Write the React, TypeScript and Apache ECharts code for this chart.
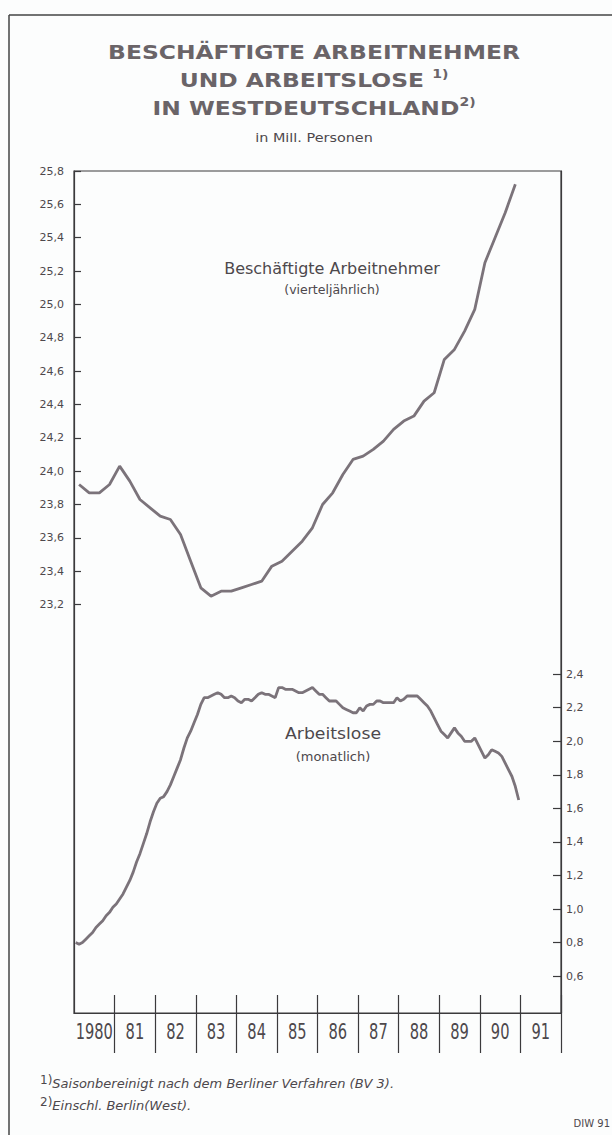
import React, { useEffect, useRef } from "react";
import * as echarts from "echarts";

// x-axis slots (one per year)
const YEAR_LABELS = ["1980", "81", "82", "83", "84", "85", "86", "87", "88", "89", "90", "91"];
const YEAR_START = 1980;

// Beschäftigte Arbeitnehmer, vierteljährlich, 1980 Q1 – 1990 Q4 (Mill.)
const EMPLOYED = [
  23.92, 23.87, 23.87, 23.92, // 1980
  24.03, 23.94, 23.83, 23.78, // 1981
  23.73, 23.71, 23.62, 23.46, // 1982
  23.30, 23.25, 23.28, 23.28, // 1983
  23.30, 23.32, 23.34, 23.43, // 1984
  23.46, 23.52, 23.58, 23.66, // 1985
  23.80, 23.87, 23.98, 24.07, // 1986
  24.09, 24.13, 24.18, 24.25, // 1987
  24.30, 24.33, 24.42, 24.47, // 1988
  24.67, 24.73, 24.84, 24.97, // 1989
  25.25, 25.40, 25.55, 25.72, // 1990
];

// Arbeitslose, monatlich, Jan 1980 – Dez 1990 (Mill.)
const UNEMPLOYED = [
  0.80, 0.79, 0.80, 0.82, 0.84, 0.86, 0.89, 0.91, 0.93, 0.96, 0.98, 1.01, // 1980
  1.03, 1.06, 1.09, 1.13, 1.17, 1.22, 1.28, 1.33, 1.39, 1.45, 1.52, 1.58, // 1981
  1.63, 1.66, 1.67, 1.70, 1.74, 1.79, 1.84, 1.89, 1.96, 2.02, 2.06, 2.11, // 1982
  2.16, 2.22, 2.26, 2.26, 2.27, 2.28, 2.29, 2.28, 2.26, 2.26, 2.27, 2.26, // 1983
  2.24, 2.23, 2.25, 2.25, 2.24, 2.26, 2.28, 2.29, 2.28, 2.28, 2.27, 2.26, // 1984
  2.32, 2.32, 2.31, 2.31, 2.31, 2.30, 2.29, 2.29, 2.30, 2.31, 2.32, 2.30, // 1985
  2.28, 2.28, 2.26, 2.24, 2.24, 2.24, 2.22, 2.20, 2.19, 2.18, 2.17, 2.17, // 1986
  2.20, 2.18, 2.21, 2.22, 2.22, 2.24, 2.24, 2.23, 2.23, 2.23, 2.23, 2.26, // 1987
  2.24, 2.25, 2.27, 2.27, 2.27, 2.27, 2.25, 2.23, 2.21, 2.18, 2.14, 2.10, // 1988
  2.06, 2.04, 2.02, 2.05, 2.08, 2.05, 2.03, 2.00, 2.00, 2.00, 2.02, 1.98, // 1989
  1.94, 1.90, 1.92, 1.95, 1.94, 1.93, 1.91, 1.87, 1.83, 1.79, 1.73, 1.65, // 1990
];

const LEFT_TICKS = [23.2, 23.4, 23.6, 23.8, 24.0, 24.2, 24.4, 24.6, 24.8, 25.0, 25.2, 25.4, 25.6, 25.8];
const RIGHT_TICKS = [0.6, 0.8, 1.0, 1.2, 1.4, 1.6, 1.8, 2.0, 2.2, 2.4];

const LINE_COLOR = "#7b737a";
const AXIS_COLOR = "#3b3a3c";
const TEXT_COLOR = "#4d484c";
const TITLE_COLOR = "#6a6468";
const SANS = "'DejaVu Sans', sans-serif";
const CONDENSED = "'DejaVu Sans Condensed', 'DejaVu Sans', sans-serif";

const fmt = (v: number) => v.toFixed(1).replace(".", ",");

export default function App() {
  const ref = useRef<HTMLDivElement>(null);

  useEffect(() => {
    const chart = echarts.init(ref.current!, null, { renderer: "svg" });

    const dividers = YEAR_LABELS.map((_, i) => YEAR_START + i + 1);
    const labelPos = YEAR_LABELS.map((_, i) => YEAR_START + i + 0.5);
    const xMin = YEAR_START;
    const xMax = YEAR_START + YEAR_LABELS.length;

    const titleText = (text: string, y: number) => ({
      type: "text",
      x: 314,
      y,
      scaleX: 1.17,
      style: {
        text,
        fill: TITLE_COLOR,
        align: "center",
        verticalAlign: "middle",
        textAlign: "center",
        textVerticalAlign: "middle",
        rich: {
          m: { fontSize: 20, fontWeight: "bold", fontFamily: SANS, fill: TITLE_COLOR, lineHeight: 24 },
          s: { fontSize: 12, fontWeight: "bold", fontFamily: SANS, fill: TITLE_COLOR, lineHeight: 12, verticalAlign: "top" },
        },
      },
    });

    const plain = (text: string, x: number, y: number, size: number, align = "center", extra: any = {}) => ({
      type: "text",
      x,
      y,
      style: {
        text,
        fill: TEXT_COLOR,
        fontSize: size,
        fontFamily: SANS,
        align,
        verticalAlign: "middle",
        textAlign: align,
        textVerticalAlign: "middle",
        ...extra,
      },
    });

    const footnote = (id: string, sup: string, body: string, y: number) => ({
      id,
      type: "text",
      x: 40,
      y,
      style: {
        text: `{s|${sup}}{t|${body}}`,
        verticalAlign: "middle",
        textVerticalAlign: "middle",
        rich: {
          s: { fontSize: 12, fontFamily: SANS, fill: TEXT_COLOR, lineHeight: 13, verticalAlign: "top" },
          t: { fontSize: 13, fontStyle: "italic", fontFamily: SANS, fill: TEXT_COLOR, lineHeight: 18 },
        },
      },
    });

    const option: any = {
      animation: false,
      backgroundColor: "#fcfdfd",
      grid: {
        left: 74,
        top: 171,
        width: 487,
        height: 842,
        show: true,
        borderColor: AXIS_COLOR,
        borderWidth: 1.2,
        backgroundColor: "transparent",
      },
      xAxis: [
        {
          type: "value",
          min: xMin,
          max: xMax,
          position: "bottom",
          axisLine: { show: true, lineStyle: { color: AXIS_COLOR, width: 1.2 } },
          axisTick: {
            show: true,
            inside: false,
            length: 40,
            customValues: dividers,
            lineStyle: { color: AXIS_COLOR, width: 1.2 },
          },
          axisLabel: { show: false },
          splitLine: { show: false },
        },
        {
          type: "value",
          min: xMin,
          max: xMax,
          position: "bottom",
          axisLine: { show: false },
          axisTick: {
            show: true,
            inside: true,
            length: 18,
            customValues: dividers,
            lineStyle: { color: AXIS_COLOR, width: 1.2 },
          },
          axisLabel: { show: false },
          splitLine: { show: false },
        },
      ],
      yAxis: [
        {
          type: "value",
          position: "left",
          min: 20.75,
          max: 25.8,
          axisLine: { show: true, lineStyle: { color: AXIS_COLOR, width: 1.2 } },
          axisTick: {
            show: true,
            inside: true,
            length: 7,
            customValues: LEFT_TICKS,
            lineStyle: { color: AXIS_COLOR, width: 1.2 },
          },
          axisLabel: {
            show: true,
            customValues: LEFT_TICKS,
            formatter: (v: number) => fmt(v),
            margin: 10,
            fontSize: 11,
            fontFamily: SANS,
            color: TEXT_COLOR,
          },
          splitLine: { show: false },
        },
        {
          type: "value",
          position: "right",
          min: 0.38,
          max: 5.4,
          axisLine: { show: true, lineStyle: { color: AXIS_COLOR, width: 1.2 } },
          axisTick: {
            show: true,
            inside: true,
            length: 8,
            customValues: RIGHT_TICKS,
            lineStyle: { color: AXIS_COLOR, width: 1.2 },
          },
          axisLabel: {
            show: true,
            customValues: RIGHT_TICKS,
            formatter: (v: number) => fmt(v),
            margin: 5,
            fontSize: 11,
            fontFamily: SANS,
            color: TEXT_COLOR,
          },
          splitLine: { show: false },
        },
      ],
      series: [
        {
          name: "Beschäftigte Arbeitnehmer",
          type: "line",
          xAxisIndex: 0,
          yAxisIndex: 0,
          showSymbol: false,
          silent: true,
          lineStyle: { color: LINE_COLOR, width: 2.8 },
          data: EMPLOYED.map((v, i) => [YEAR_START + (i + 0.5) / 4, v]),
        },
        {
          name: "Arbeitslose",
          type: "line",
          xAxisIndex: 0,
          yAxisIndex: 1,
          showSymbol: false,
          silent: true,
          lineStyle: { color: LINE_COLOR, width: 2.8 },
          data: UNEMPLOYED.map((v, i) => [YEAR_START + (i + 0.5) / 12, v]),
        },
      ],
      graphic: [
        { type: "line", shape: { x1: 9, y1: 15, x2: 612, y2: 15 }, style: { stroke: "#444", lineWidth: 1.5 } },
        { type: "line", shape: { x1: 9, y1: 15, x2: 9, y2: 1135 }, style: { stroke: "#444", lineWidth: 1.5 } },
        titleText("{m|BESCHÄFTIGTE ARBEITNEHMER}", 52),
        titleText("{m|UND ARBEITSLOSE }{s|1)}", 80),
        titleText("{m|IN WESTDEUTSCHLAND}{s|2)}", 108),
        { ...plain("in Mill. Personen", 314, 138, 12), scaleX: 1.2 },
        plain("Beschäftigte Arbeitnehmer", 332, 268, 16),
        plain("(vierteljährlich)", 332, 289, 12.5),
        { ...plain("Arbeitslose", 333, 734, 16), scaleX: 1.08 },
        plain("(monatlich)", 333, 756, 13),
        footnote("fn1", "1)", "Saisonbereinigt nach dem Berliner Verfahren (BV 3).", 1083),
        footnote("fn2", "2)", "Einschl. Berlin(West).", 1105),
        plain("DIW 91", 610, 1123, 10, "right"),
      ],
    };

    chart.setOption(option);

    // Year labels: tall condensed digits centred in each year slot, placed through the x scale
    const yearTexts = YEAR_LABELS.map((label, i) => ({
      id: `year-${i}`,
      type: "text",
      x: chart.convertToPixel({ xAxisIndex: 0 }, labelPos[i]) as number,
      y: 1032,
      scaleX: 0.74,
      style: {
        text: label,
        fill: TEXT_COLOR,
        fontSize: 22,
        fontFamily: CONDENSED,
        align: "center",
        verticalAlign: "middle",
        textAlign: "center",
        textVerticalAlign: "middle",
      },
    }));
    chart.setOption({ graphic: yearTexts });

    return () => chart.dispose();
  }, []);

  return (
    <div
      ref={ref}
      style={{ position: "absolute", left: 0, top: 0, width: 612, height: 1135 }}
    />
  );
}
